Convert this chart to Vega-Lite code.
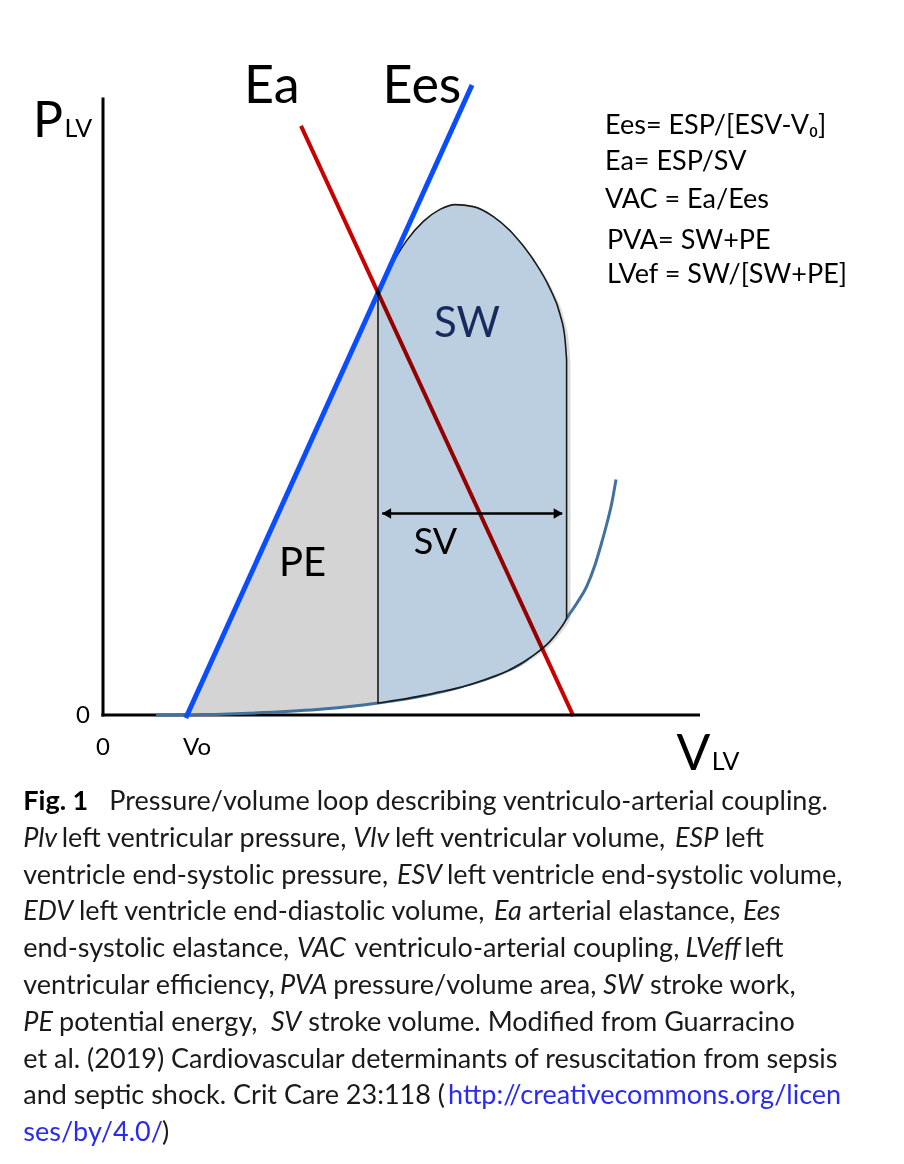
{
  "$schema": "https://vega.github.io/schema/vega-lite/v6.json",
  "width": 904,
  "height": 1164,
  "autosize": {"type": "fit", "contains": "padding"},
  "padding": 0,
  "background": "white",
  "config": {"view": {"stroke": null}},
  "datasets": {
    "axes": [
      {"x": 0, "y": -0.4, "x2": 0, "y2": 154.4},
      {"x": -0.4, "y": 0, "x2": 149.25, "y2": 0}
    ],
    "loop": [
      {"x": 68.75, "y": 105.4, "y2": 3.0},
      {"x": 70.1, "y": 108.4, "y2": 3.2},
      {"x": 72.6, "y": 113.3, "y2": 3.6},
      {"x": 75.9, "y": 118.6, "y2": 4.1},
      {"x": 80.1, "y": 123.4, "y2": 4.9},
      {"x": 84.25, "y": 126.4, "y2": 5.8},
      {"x": 88.0, "y": 127.6, "y2": 6.6},
      {"x": 92.6, "y": 127.1, "y2": 7.9},
      {"x": 97.6, "y": 124.6, "y2": 9.6},
      {"x": 102.6, "y": 120.2, "y2": 11.8},
      {"x": 107.6, "y": 113.8, "y2": 14.9},
      {"x": 111.75, "y": 106.6, "y2": 18.4},
      {"x": 114.25, "y": 100.2, "y2": 21.5},
      {"x": 115.5, "y": 94.0, "y2": 23.4},
      {"x": 115.9, "y": 88.75, "y2": 24.25}
    ],
    "pe": [
      {"x": 20.75, "y": 0.0, "y2": 0.1},
      {"x": 40.0, "y": 42.5, "y2": 0.6},
      {"x": 55.0, "y": 75.2, "y2": 1.5},
      {"x": 68.75, "y": 105.6, "y2": 3.0}
    ],
    "edpvr": [
      {"x": 13.25, "y": 0.0},
      {"x": 25.0, "y": 0.1},
      {"x": 40.0, "y": 0.6},
      {"x": 55.0, "y": 1.5},
      {"x": 68.75, "y": 3.0},
      {"x": 80.9, "y": 5.0},
      {"x": 90.0, "y": 7.2},
      {"x": 97.5, "y": 9.6},
      {"x": 105.0, "y": 13.2},
      {"x": 109.7, "y": 17.1},
      {"x": 113.0, "y": 20.5},
      {"x": 115.9, "y": 24.25},
      {"x": 118.5, "y": 28.0},
      {"x": 120.9, "y": 32.1},
      {"x": 123.0, "y": 37.5},
      {"x": 124.5, "y": 42.5},
      {"x": 126.0, "y": 48.0},
      {"x": 127.2, "y": 53.0},
      {"x": 128.25, "y": 58.9}
    ],
    "elastance": [
      {"name": "Ees", "x": 20.7, "y": -0.75},
      {"name": "Ees", "x": 92.25, "y": 157.5},
      {"name": "Ea", "x": 49.5, "y": 147.3},
      {"name": "Ea", "x": 117.6, "y": -0.3}
    ],
    "caption": [
      {"t": "Fig. 1", "x": -19.93, "y": -23.75, "s": "b"},
      {"t": "Pressure/volume loop describing ventriculo-arterial coupling.", "x": 1.58, "y": -23.75, "s": "r"},
      {"t": "Plv", "x": -19.93, "y": -32.95, "s": "i"},
      {"t": "left ventricular pressure,", "x": -10.33, "y": -32.95, "s": "r"},
      {"t": "Vlv", "x": 62.58, "y": -32.95, "s": "i"},
      {"t": "left ventricular volume,", "x": 73.0, "y": -32.95, "s": "r"},
      {"t": "ESP", "x": 143.0, "y": -32.95, "s": "i"},
      {"t": "left", "x": 155.5, "y": -32.95, "s": "r"},
      {"t": "ventricle end-systolic pressure,", "x": -19.93, "y": -42.15, "s": "r"},
      {"t": "ESV", "x": 73.5, "y": -42.15, "s": "i"},
      {"t": "left ventricle end-systolic volume,", "x": 86.0, "y": -42.15, "s": "r"},
      {"t": "EDV", "x": -19.93, "y": -51.35, "s": "i"},
      {"t": "left ventricle end-diastolic volume,", "x": -6.0, "y": -51.35, "s": "r"},
      {"t": "Ea", "x": 97.75, "y": -51.35, "s": "i"},
      {"t": "arterial elastance,", "x": 106.33, "y": -51.35, "s": "r"},
      {"t": "Ees", "x": 160.0, "y": -51.35, "s": "i"},
      {"t": "end-systolic elastance,", "x": -19.93, "y": -60.55, "s": "r"},
      {"t": "VAC", "x": 48.5, "y": -60.55, "s": "i"},
      {"t": "ventriculo-arterial coupling,", "x": 62.9, "y": -60.55, "s": "r"},
      {"t": "LVeff", "x": 145.6, "y": -60.55, "s": "i"},
      {"t": "left", "x": 160.4, "y": -60.55, "s": "r"},
      {"t": "ventricular efficiency,", "x": -19.93, "y": -69.75, "s": "r"},
      {"t": "PVA", "x": 44.25, "y": -69.75, "s": "i"},
      {"t": "pressure/volume area,", "x": 57.58, "y": -69.75, "s": "r"},
      {"t": "SW", "x": 125.08, "y": -69.75, "s": "i"},
      {"t": "stroke work,", "x": 136.75, "y": -69.75, "s": "r"},
      {"t": "PE", "x": -19.93, "y": -78.95, "s": "i"},
      {"t": "potential energy,", "x": -11.0, "y": -78.95, "s": "r"},
      {"t": "SV", "x": 42.0, "y": -78.95, "s": "i"},
      {"t": "stroke volume.  Modified from Guarracino", "x": 51.3, "y": -78.95, "s": "r"},
      {"t": "et al. (2019) Cardiovascular determinants of resuscitation from sepsis", "x": -19.93, "y": -88.15, "s": "r"},
      {"t": "and septic shock. Crit Care 23:118 (", "x": -19.93, "y": -97.35, "s": "r"},
      {"t": "http://creativecommons.org/licen", "x": 86.25, "y": -97.35, "s": "l"},
      {"t": "ses/by/4.0/", "x": -19.93, "y": -106.55, "s": "l"},
      {"t": ")", "x": 14.75, "y": -106.55, "s": "r"}
    ]
  },
  "encoding": {
    "x": {"field": "x", "type": "quantitative", "scale": {"domain": [-25.75, 200.25], "nice": false, "zero": false}, "axis": null},
    "y": {"field": "y", "type": "quantitative", "scale": {"domain": [-112.25, 178.75], "nice": false, "zero": false}, "axis": null}
  },
  "layer": [
    {
      "data": {"name": "axes"},
      "mark": {"type": "rule", "color": "#000000", "strokeWidth": 3},
      "encoding": {"x2": {"field": "x2"}, "y2": {"field": "y2"}}
    },
    {
      "data": {"name": "loop"},
      "mark": {"type": "area", "interpolate": "monotone", "fill": "#9a9a9a", "fillOpacity": 0.35, "xOffset": 4, "yOffset": 4},
      "encoding": {"y2": {"field": "y2"}}
    },
    {
      "data": {"name": "pe"},
      "mark": {"type": "area", "interpolate": "monotone", "fill": "#d4d4d4"},
      "encoding": {"y2": {"field": "y2"}}
    },
    {
      "data": {"name": "edpvr"},
      "mark": {"type": "line", "interpolate": "monotone", "color": "#41719c", "strokeWidth": 3},
      "encoding": {}
    },
    {
      "data": {"name": "loop"},
      "mark": {"type": "area", "interpolate": "monotone", "fill": "#bccfe0", "stroke": "#1a1a1a", "strokeWidth": 1.6},
      "encoding": {"y2": {"field": "y2"}}
    },
    {
      "data": {"name": "elastance"},
      "transform": [{"filter": "datum.name === 'Ees'"}],
      "mark": {"type": "line", "color": "#0a4cff", "strokeWidth": 5, "strokeCap": "butt"},
      "encoding": {}
    },
    {
      "data": {"name": "elastance"},
      "transform": [{"filter": "datum.name === 'Ea'"}],
      "mark": {"type": "line", "color": "#c80000", "strokeWidth": 4, "strokeCap": "butt", "blend": "multiply"},
      "encoding": {}
    },
    {
      "data": {"values": [{"x": 69.8, "x2": 114.8, "y": 50.4}]},
      "mark": {"type": "rule", "color": "#000000", "strokeWidth": 2.5},
      "encoding": {"x2": {"field": "x2"}}
    },
    {
      "data": {"values": [{"x": 70.9, "y": 50.4}]},
      "mark": {"type": "point", "shape": "triangle-left", "filled": true, "color": "#000000", "size": 110, "opacity": 1},
      "encoding": {}
    },
    {
      "data": {"values": [{"x": 113.8, "y": 50.4}]},
      "mark": {"type": "point", "shape": "triangle-right", "filled": true, "color": "#000000", "size": 110, "opacity": 1},
      "encoding": {}
    },
    {
      "data": {"values": [
        {"t": "Ea", "x": 35.25, "y": 153.1},
        {"t": "Ees", "x": 69.9, "y": 153.1}
      ]},
      "mark": {"type": "text", "font": "Lato", "fontSize": 52, "align": "left", "baseline": "alphabetic", "color": "#000000"},
      "encoding": {"text": {"field": "t"}}
    },
    {
      "data": {"values": [
        {"t": "P", "x": -17.5, "y": 144.6},
        {"t": "V", "x": 143.4, "y": -13.75}
      ]},
      "mark": {"type": "text", "font": "Lato", "fontSize": 50, "align": "left", "baseline": "alphabetic", "color": "#000000"},
      "encoding": {"text": {"field": "t"}}
    },
    {
      "data": {"values": [
        {"t": "LV", "x": -9.6, "y": 144.6},
        {"t": "LV", "x": 152.2, "y": -13.75}
      ]},
      "mark": {"type": "text", "font": "Lato", "fontSize": 25, "align": "left", "baseline": "alphabetic", "color": "#000000"},
      "encoding": {"text": {"field": "t"}}
    },
    {
      "data": {"values": [
        {"t": "0", "x": -5, "y": -2},
        {"t": "0", "x": 0, "y": -10},
        {"t": "Vo", "x": 23.5, "y": -10}
      ]},
      "mark": {"type": "text", "font": "Lato", "fontSize": 24, "align": "center", "baseline": "alphabetic", "color": "#000000"},
      "encoding": {"text": {"field": "t"}}
    },
    {
      "data": {"values": [
        {"t": "Ees= ESP/[ESV-V₀]", "x": 125.5, "y": 145.25},
        {"t": "Ea= ESP/SV", "x": 125.5, "y": 136.25},
        {"t": "VAC = Ea/Ees", "x": 125.5, "y": 126.75},
        {"t": "PVA= SW+PE", "x": 126, "y": 116.5},
        {"t": "LVef = SW/[SW+PE]", "x": 126, "y": 108}
      ]},
      "mark": {"type": "text", "font": "Lato", "fontSize": 27, "align": "left", "baseline": "alphabetic", "color": "#000000"},
      "encoding": {"text": {"field": "t"}}
    },
    {
      "data": {"values": [{"t": "SW", "x": 91, "y": 94.6}]},
      "mark": {"type": "text", "font": "Lato", "fontSize": 42, "align": "center", "baseline": "alphabetic", "color": "#172b5e"},
      "encoding": {"text": {"field": "t"}}
    },
    {
      "data": {"values": [{"t": "PE", "x": 49.9, "y": 34.8}]},
      "mark": {"type": "text", "font": "Lato", "fontSize": 40, "align": "center", "baseline": "alphabetic", "color": "#000000"},
      "encoding": {"text": {"field": "t"}}
    },
    {
      "data": {"values": [{"t": "SV", "x": 83.1, "y": 40.25}]},
      "mark": {"type": "text", "font": "Lato", "fontSize": 36, "align": "center", "baseline": "alphabetic", "color": "#000000"},
      "encoding": {"text": {"field": "t"}}
    },
    {
      "data": {"name": "caption"},
      "transform": [{"filter": "datum.s === 'b'"}],
      "mark": {"type": "text", "font": "Lato", "fontSize": 27, "fontWeight": "bold", "align": "left", "baseline": "alphabetic", "color": "#000000"},
      "encoding": {"text": {"field": "t"}}
    },
    {
      "data": {"name": "caption"},
      "transform": [{"filter": "datum.s === 'r'"}],
      "mark": {"type": "text", "font": "Lato", "fontSize": 27, "align": "left", "baseline": "alphabetic", "color": "#1a1a1a"},
      "encoding": {"text": {"field": "t"}}
    },
    {
      "data": {"name": "caption"},
      "transform": [{"filter": "datum.s === 'i'"}],
      "mark": {"type": "text", "font": "Lato", "fontSize": 27, "fontStyle": "italic", "align": "left", "baseline": "alphabetic", "color": "#1a1a1a"},
      "encoding": {"text": {"field": "t"}}
    },
    {
      "data": {"name": "caption"},
      "transform": [{"filter": "datum.s === 'l'"}],
      "mark": {"type": "text", "font": "Lato", "fontSize": 27, "align": "left", "baseline": "alphabetic", "color": "#2b2bf0"},
      "encoding": {"text": {"field": "t"}}
    }
  ]
}
